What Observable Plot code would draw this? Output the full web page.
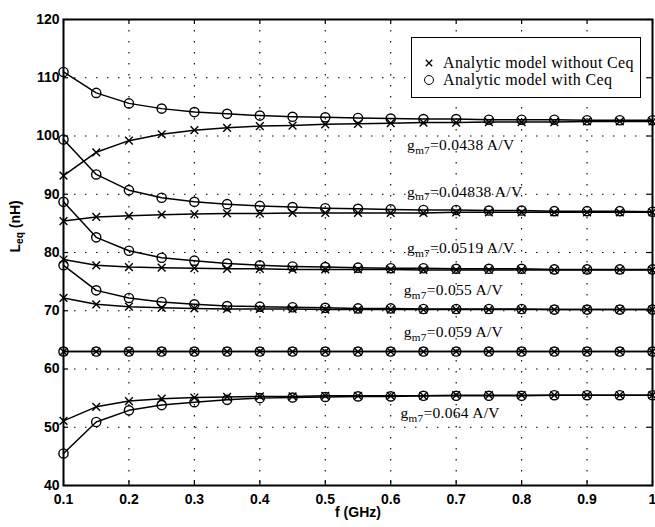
<!DOCTYPE html>
<html>
<head>
<meta charset="utf-8">
<script src="https://cdn.jsdelivr.net/npm/d3@7"></script>
<script src="https://cdn.jsdelivr.net/npm/@observablehq/plot@0.6"></script>
<style>
  body { margin: 0; background: white; }
  #wrap { position: relative; width: 655px; height: 527px; background: white; }
  #legend {
    position: absolute; left: 411px; top: 37px; width: 230px; height: 61px;
    border: 1px solid black; background: white; box-sizing: border-box;
    font-family: "Liberation Serif", "Times New Roman", serif; font-size: 16px; letter-spacing: 0.35px; color: black;
  }
  #legend .row { position: absolute; left: 0; height: 18px; display: flex; align-items: center; white-space: nowrap; }
  #legend svg { margin-left: 11px; margin-right: 8px; }
</style>
</head>
<body>
<div id="wrap">
  <div id="chart"></div>
  <div id="legend">
    <div class="row" style="top:16px"><svg width="12" height="12"><path d="M2.8,2.8L9.2,9.2M9.2,2.8L2.8,9.2" stroke="black" stroke-width="1.3"/></svg><span>Analytic model without Ceq</span></div>
    <div class="row" style="top:33px"><svg width="12" height="12"><circle cx="6" cy="6" r="4.5" fill="none" stroke="black" stroke-width="1"/></svg><span>Analytic model with Ceq</span></div>
  </div>
</div>
<script>
// Frequencies (GHz)
const freq = [0.1, 0.15, 0.2, 0.25, 0.3, 0.35, 0.4, 0.45, 0.5, 0.55, 0.6, 0.65, 0.7, 0.75, 0.8, 0.85, 0.9, 0.95, 1.0];

// gm7 values (A/V)
const gmValues = ["0.0438", "0.04838", "0.0519", "0.055", "0.059", "0.064"];

// Leq (nH) — analytic model with Ceq
const withCeq = [
  [111.0, 107.4, 105.6, 104.7, 104.1, 103.8, 103.5, 103.3, 103.2, 103.1, 103.0, 102.9, 102.9, 102.8, 102.8, 102.8, 102.7, 102.7, 102.7],
  [99.4, 93.4, 90.7, 89.4, 88.7, 88.3, 88.0, 87.8, 87.6, 87.5, 87.4, 87.3, 87.3, 87.2, 87.2, 87.1, 87.1, 87.1, 87.0],
  [88.7, 82.6, 80.3, 79.1, 78.6, 78.1, 77.8, 77.6, 77.5, 77.4, 77.3, 77.3, 77.2, 77.2, 77.2, 77.1, 77.1, 77.1, 77.1],
  [77.8, 73.5, 72.2, 71.5, 71.1, 70.8, 70.7, 70.6, 70.5, 70.4, 70.4, 70.3, 70.3, 70.3, 70.3, 70.2, 70.2, 70.2, 70.2],
  [63.0, 63.0, 63.0, 63.0, 63.0, 63.0, 63.0, 63.0, 63.0, 63.0, 63.0, 63.0, 63.0, 63.0, 63.0, 63.0, 63.0, 63.0, 63.0],
  [45.5, 50.9, 52.9, 53.8, 54.3, 54.7, 55.0, 55.1, 55.2, 55.3, 55.3, 55.4, 55.4, 55.4, 55.4, 55.5, 55.5, 55.5, 55.5]
];

// Leq (nH) — analytic model without Ceq
const withoutCeq = [
  [93.2, 97.2, 99.2, 100.3, 101.0, 101.4, 101.7, 101.8, 102.0, 102.1, 102.2, 102.3, 102.3, 102.4, 102.4, 102.4, 102.5, 102.5, 102.5],
  [85.4, 86.1, 86.3, 86.5, 86.6, 86.7, 86.7, 86.8, 86.8, 86.8, 86.8, 86.8, 86.9, 86.9, 86.9, 86.9, 86.9, 86.9, 86.9],
  [78.8, 77.8, 77.5, 77.4, 77.3, 77.2, 77.2, 77.1, 77.1, 77.1, 77.1, 77.0, 77.0, 77.0, 77.0, 77.0, 77.0, 77.0, 77.0],
  [72.2, 71.1, 70.7, 70.5, 70.4, 70.3, 70.3, 70.3, 70.2, 70.2, 70.2, 70.2, 70.2, 70.2, 70.2, 70.2, 70.2, 70.2, 70.2],
  [63.0, 63.0, 63.0, 63.0, 63.0, 63.0, 63.0, 63.0, 63.0, 63.0, 63.0, 63.0, 63.0, 63.0, 63.0, 63.0, 63.0, 63.0, 63.0],
  [51.1, 53.5, 54.5, 54.9, 55.1, 55.2, 55.3, 55.3, 55.4, 55.4, 55.4, 55.4, 55.5, 55.5, 55.5, 55.5, 55.5, 55.5, 55.5]
];

// Annotation anchors (data coordinates) for the gm7 labels
const labelF = [0.625, 0.625, 0.625, 0.62, 0.62, 0.615];
const labelL = [98.4, 90.4, 80.7, 73.5, 66.3, 52.4];

// Axis ticks
const xTicks = [0.1, 0.2, 0.3, 0.4, 0.5, 0.6, 0.7, 0.8, 0.9, 1];
const yTicks = [40, 50, 60, 70, 80, 90, 100, 110, 120];

// Build tables
const rowsWith = [], rowsWithout = [];
gmValues.forEach((g, s) => {
  freq.forEach((f, i) => {
    rowsWith.push({gm: g, f, L: withCeq[s][i]});
    rowsWithout.push({gm: g, f, L: withoutCeq[s][i]});
  });
});
const labels = gmValues.map((g, i) => ({text: "g_m7=" + g + " A/V", f: labelF[i], L: labelL[i]}));

const dots = "1.5,9.5";
const chart = Plot.plot({
  width: 655,
  height: 527,
  marginLeft: 63,
  marginRight: 3,
  marginTop: 19,
  marginBottom: 42,
  style: {fontFamily: "Liberation Sans, Arial, sans-serif", fontSize: "14px", background: "white", color: "black"},
  x: {domain: [0.1, 1]},
  y: {domain: [40, 120]},
  marks: [
    // dotted grid
    Plot.ruleX(xTicks, {x: d => d, stroke: "black", strokeWidth: 1.1, strokeDasharray: dots}),
    Plot.ruleY(yTicks, {y: d => d, stroke: "black", strokeWidth: 1.1, strokeDasharray: dots}),
    // inward ticks on all sides
    Plot.ruleX(xTicks, {x: d => d, y1: 40, y2: 40, insetTop: -5, stroke: "black", strokeWidth: 1.2}),
    Plot.ruleX(xTicks, {x: d => d, y1: 120, y2: 120, insetBottom: -5, stroke: "black", strokeWidth: 1.2}),
    Plot.ruleY(yTicks, {y: d => d, x1: 0.1, x2: 0.1, insetRight: -5, stroke: "black", strokeWidth: 1.2}),
    Plot.ruleY(yTicks, {y: d => d, x1: 1, x2: 1, insetLeft: -5, stroke: "black", strokeWidth: 1.2}),
    // axes labels (ticks)
    Plot.axisX(xTicks, {anchor: "bottom", tickSize: 0, tickPadding: 9, tickFormat: d => String(d), fontWeight: "bold", fontSize: 14, label: null}),
    Plot.axisY(yTicks, {anchor: "left", tickSize: 0, tickPadding: 4, tickFormat: d => String(d), fontWeight: "bold", fontSize: 14, label: null}),
    // series lines
    Plot.line(rowsWithout, {x: "f", y: "L", z: "gm", stroke: "black", strokeWidth: 1.5}),
    Plot.line(rowsWith, {x: "f", y: "L", z: "gm", stroke: "black", strokeWidth: 1.5}),
    Plot.dot(rowsWithout, {x: "f", y: "L", symbol: "times", r: 3.6, stroke: "black", strokeWidth: 1.4}),
    Plot.dot(rowsWith, {x: "f", y: "L", symbol: "circle", r: 4.6, fill: "none", stroke: "black", strokeWidth: 1.4}),
    // annotations
    Plot.text(labels, {x: "f", y: "L", text: "text", textAnchor: "start", fontFamily: "Liberation Serif, Times New Roman, serif", fontSize: 15.5, fill: "black"}),
    // axis titles
    Plot.text(["f (GHz)"], {frameAnchor: "bottom", dy: 31, text: d => d, fontWeight: "bold", fontSize: 14, fill: "black"}),
    Plot.text(["L_eq (nH)"], {frameAnchor: "left", dx: -48, rotate: -90, text: d => d, fontWeight: "bold", fontSize: 14, fill: "black"}),
    Plot.frame({stroke: "black", strokeWidth: 2})
  ]
});
document.getElementById("chart").appendChild(chart);

// Render "_xx" as subscripts
const NS = "http://www.w3.org/2000/svg";
chart.querySelectorAll("text").forEach(el => {
  const t = el.textContent;
  const m = t.match(/^([^_]*)_([A-Za-z0-9]+)(.*)$/);
  if (!m) return;
  while (el.firstChild) el.removeChild(el.firstChild);
  const a = document.createElementNS(NS, "tspan"); a.textContent = m[1];
  const b = document.createElementNS(NS, "tspan"); b.textContent = m[2];
  b.setAttribute("dy", "0.3em"); b.setAttribute("font-size", "0.72em");
  const c = document.createElementNS(NS, "tspan"); c.textContent = m[3];
  c.setAttribute("dy", "-0.22em");
  el.append(a, b, c);
  if (m[1] === "g") el.setAttribute("letter-spacing", "0.3");
});
</script>
</body>
</html>
